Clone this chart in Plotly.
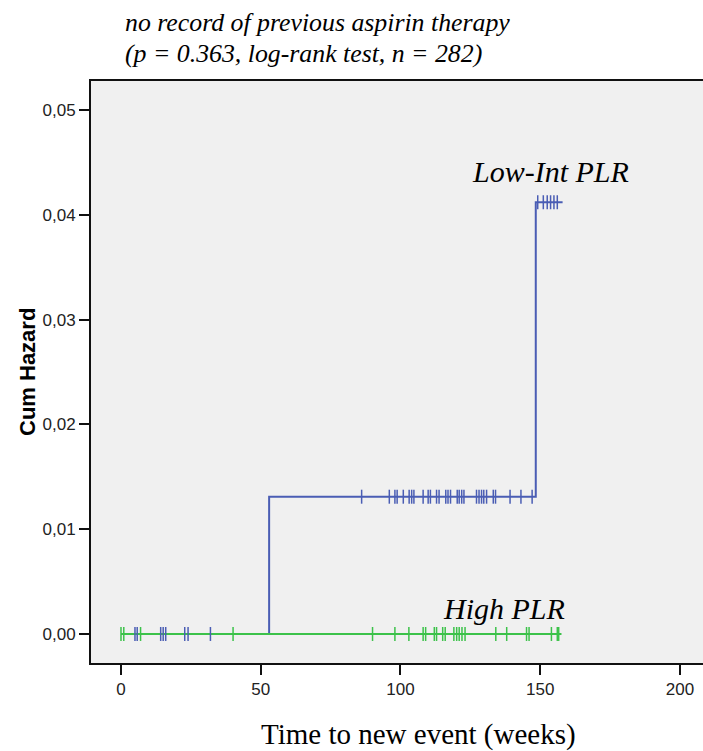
import plotly.graph_objects as go

# ---- data ----
low_step_times = [0, 53.0, 148.4, 158.0]
low_step_hazard = [0.0, 0.0131, 0.0412, 0.0412]
low_censor_times = [5.0, 5.8, 14.2, 15.1, 16.0, 22.8, 24.0, 32.0,
                    86.1, 96.0, 98.0, 98.8, 101.0, 103.1, 104.0, 104.8, 108.1, 109.9,
                    110.7, 112.9, 113.8, 116.2, 117.0, 117.9, 120.3, 121.0, 121.9, 122.7,
                    127.2, 128.1, 129.0, 129.8, 130.8, 133.2, 134.0, 139.2, 143.1, 147.1,
                    149.1, 151.1, 152.5, 153.7, 154.9, 156.1]

high_step_times = [0, 157.6]
high_step_hazard = [0.0, 0.0]
high_censor_times = [0.0, 1.0, 7.0, 40.1,
                     90.0, 98.0, 103.0, 108.1, 109.0, 112.1, 112.9, 115.1, 116.0, 119.1,
                     120.1, 121.0, 122.0, 123.1, 134.1, 138.0, 145.1, 146.0, 154.0, 156.1, 156.6]

y_tick_vals = [0.00, 0.01, 0.02, 0.03, 0.04, 0.05]
y_tick_text = ["0,00", "0,01", "0,02", "0,03", "0,04", "0,05"]
x_tick_vals = [0, 50, 100, 150, 200]

title_lines = ["no record of previous aspirin therapy",
               "(p = 0.363, log-rank test, n = 282)"]
x_title = "Time to new event (weeks)"
y_title = "Cum Hazard"
group_labels = ["Low-Int PLR", "High PLR"]

BLUE = "#4a5db4"
GREEN = "#3cc24a"


def step_value(times, values, t):
    v = values[0]
    for ti, vi in zip(times, values):
        if t >= ti:
            v = vi
    return v


fig = go.Figure()

fig.add_trace(go.Scatter(x=low_step_times, y=low_step_hazard, mode="lines",
                         line=dict(color=BLUE, width=2, shape="hv"), showlegend=False))
fig.add_trace(go.Scatter(x=high_step_times, y=high_step_hazard, mode="lines",
                         line=dict(color=GREEN, width=2, shape="hv"), showlegend=False))
fig.add_trace(go.Scatter(x=low_censor_times,
                         y=[step_value(low_step_times, low_step_hazard, t) for t in low_censor_times],
                         mode="markers",
                         marker=dict(symbol="line-ns", size=10, line=dict(color=BLUE, width=1.5)),
                         showlegend=False))
fig.add_trace(go.Scatter(x=high_censor_times,
                         y=[step_value(high_step_times, high_step_hazard, t) for t in high_censor_times],
                         mode="markers",
                         marker=dict(symbol="line-ns", size=10, line=dict(color=GREEN, width=1.5)),
                         showlegend=False))

# figure is slightly wider than the window so the plot area runs off the right edge
FIG_W = 712
PLOT_L = 91
PLOT_W = FIG_W - PLOT_L


def px_to_paper_x(px):
    return (px - PLOT_L) / PLOT_W


serif = "Liberation Serif"
annotations = [
    dict(text=f"<i>{title_lines[0]}</i>", xref="paper", yref="paper", x=px_to_paper_x(123), y=1.0997,
         xanchor="left", yanchor="middle", showarrow=False,
         font=dict(family=serif, size=25.8, color="#000")),
    dict(text=f"<i>{title_lines[1]}</i>", xref="paper", yref="paper", x=px_to_paper_x(123), y=1.048,
         xanchor="left", yanchor="middle", showarrow=False,
         font=dict(family=serif, size=25.8, color="#000")),
    dict(text=x_title, xref="paper", yref="paper", x=px_to_paper_x(418), y=-0.122,
         xanchor="center", yanchor="middle", showarrow=False,
         font=dict(family=serif, size=29, color="#000")),
    dict(text=f"<b>{y_title}</b>", xref="paper", yref="paper", x=px_to_paper_x(27), y=0.5,
         xanchor="center", yanchor="middle", showarrow=False, textangle=-90,
         font=dict(family="Liberation Sans", size=22, color="#000")),
    dict(text=f"<i>{group_labels[0]}</i>", xref="x", yref="y", x=153.5, y=0.0441,
         xanchor="center", yanchor="middle", showarrow=False,
         font=dict(family=serif, size=30, color="#000")),
    dict(text=f"<i>{group_labels[1]}</i>", xref="x", yref="y", x=137, y=0.0024,
         xanchor="center", yanchor="middle", showarrow=False,
         font=dict(family=serif, size=30, color="#000")),
]

x_right = -10.73 + PLOT_W / 2.795

fig.update_layout(
    width=FIG_W, height=751,
    margin=dict(l=PLOT_L, r=0, t=81, b=88),
    paper_bgcolor="white", plot_bgcolor="#f0f0f0",
    annotations=annotations,
    font=dict(family="Liberation Sans", size=17, color="#222"),
)
fig.update_xaxes(range=[-10.73, x_right], tickvals=x_tick_vals, ticks="outside", ticklen=10,
                 tickwidth=2, tickcolor="#111", showline=True, linecolor="#111", linewidth=2,
                 mirror=True, showgrid=False, zeroline=False,
                 tickfont=dict(family="Liberation Sans", size=17, color="#222"))
fig.update_yaxes(range=[-0.00277, 0.05277], tickvals=y_tick_vals, ticktext=y_tick_text,
                 ticks="outside", ticklen=10, tickwidth=2, tickcolor="#111", showline=True,
                 linecolor="#111", linewidth=2, mirror=False, showgrid=False, zeroline=False,
                 tickfont=dict(family="Liberation Sans", size=17, color="#222"))

fig.write_html("out.html", config={"displayModeBar": False},
               post_script="document.body.style.margin='0';document.body.style.overflow='hidden';"
                           "document.documentElement.style.overflow='hidden';")
